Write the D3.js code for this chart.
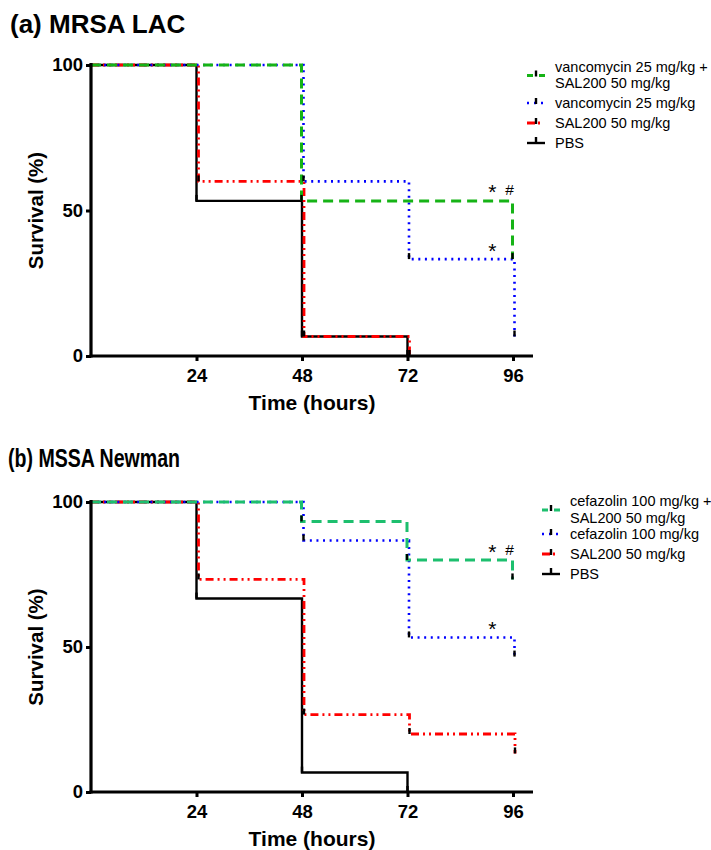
<!DOCTYPE html>
<html>
<head>
<meta charset="utf-8">
<script src="https://cdn.jsdelivr.net/npm/d3@7"></script>
<style>
  body { margin: 0; background: #fff; }
  svg { display: block; font-family: "Liberation Sans", Arial, Helvetica, sans-serif; }
</style>
</head>
<body>
<svg id="chart" width="711" height="850"></svg>
<script>
// ---------------- DATA ----------------
const xTicks = [24, 48, 72, 96];
const yTicks = [0, 50, 100];

// Panel (a) MRSA LAC — step points: time (h) and survival (%) after that time
const aComboTimes = [0, 48, 96];
const aComboSurv  = [100, 53.3, 33.3];
const aVancoTimes = [0, 48, 72, 96];
const aVancoSurv  = [100, 60, 33.3, 6.7];
const aSalTimes   = [0, 24, 48, 72];
const aSalSurv    = [100, 60, 6.7, 0];
const aPbsTimes   = [0, 24, 48, 72];
const aPbsSurv    = [100, 53.3, 6.7, 0];
const aLegend = [["vancomycin 25 mg/kg +", "SAL200 50 mg/kg"], ["vancomycin 25 mg/kg"], ["SAL200 50 mg/kg"], ["PBS"]];

// Panel (b) MSSA Newman
const bComboTimes = [0, 48, 72, 96];
const bComboSurv  = [100, 93.3, 80, 73.3];
const bCefTimes   = [0, 48, 72, 96];
const bCefSurv    = [100, 86.7, 53.3, 46.7];
const bSalTimes   = [0, 24, 48, 72, 96];
const bSalSurv    = [100, 73.3, 26.7, 20, 13.3];
const bPbsTimes   = [0, 24, 48, 72];
const bPbsSurv    = [100, 66.7, 6.7, 0];
const bLegend = [["cefazolin 100 mg/kg +", "SAL200 50 mg/kg"], ["cefazolin 100 mg/kg"], ["SAL200 50 mg/kg"], ["PBS"]];

// significance marks: [series index, time, label]
const aMarks = [[0, 91.3, "*"], [0, 95.2, "#"], [1, 91.3, "*"]];
const bMarks = [[0, 91.3, "*"], [0, 95.2, "#"], [1, 91.3, "*"]];

// ---------------- STYLE ----------------
const styles = [
  { dash: "10,6", width: 3, dx: -0.5 },           // combo (green)
  { dash: "2,4.6", width: 2.6, dx: 1.5 },         // drug (blue dotted)
  { dash: "8,4,2,4,2,4", width: 2.8, dx: 2 },     // SAL (red dash-dot-dot)
  { dash: null, width: 2.4, dx: 0 }               // PBS (black)
];

const svg = d3.select("#chart");

function panel(cfg) {
  const x = d3.scaleLinear().domain([0, 100.55]).range([91, 533]);
  const y = d3.scaleLinear().domain([0, 100]).range([cfg.y0, cfg.y100]);
  const g = svg.append("g");

  // title
  const t = g.append("text").attr("x", cfg.titleX).attr("y", cfg.titleY)
    .attr("font-size", cfg.titleSize).attr("font-weight", "bold").text(cfg.title);
  if (cfg.titleLen) t.attr("textLength", cfg.titleLen).attr("lengthAdjust", "spacingAndGlyphs");

  // series (drawn back to front: PBS, SAL, drug, combo)
  const series = cfg.series;
  const order = [3, 2, 1, 0];
  const line = d3.line().x(d => d[0]).y(d => d[1]).curve(d3.curveStepAfter);
  order.forEach(i => {
    const s = series[i];
    const st = styles[i];
    const pts = s.times.map((tm, k) => [x(tm) + (tm === 0 ? 0 : st.dx), y(s.surv[k])]);
    const p = g.append("path").attr("d", line(pts)).attr("fill", "none")
      .attr("stroke", s.color).attr("stroke-width", st.width);
    if (st.dash) p.attr("stroke-dasharray", st.dash);
  });
  // event ticks (black) at the bottom of each drop
  order.forEach(i => {
    const s = series[i];
    const st = styles[i];
    s.times.forEach((tm, k) => {
      if (k === 0) return;
      const xx = x(tm) + st.dx;
      g.append("line").attr("x1", xx).attr("x2", xx)
        .attr("y1", y(s.surv[k]) - 6).attr("y2", y(s.surv[k]))
        .attr("stroke", "#000").attr("stroke-width", 2.4);
    });
  });

  // axes
  const xAxis = d3.axisBottom(x).tickValues(xTicks).tickSize(5).tickSizeOuter(0).tickPadding(5);
  const yAxis = d3.axisLeft(y).tickValues(yTicks).tickSize(5).tickSizeOuter(0).tickPadding(3);
  const gx = g.append("g").attr("transform", `translate(0,${cfg.y0})`).call(xAxis);
  const gy = g.append("g").attr("transform", `translate(91,0)`).call(yAxis);
  [gx, gy].forEach(a => {
    a.select(".domain").attr("stroke-width", 3.2).attr("stroke", "#000");
    a.selectAll(".tick line").attr("stroke-width", 3).attr("stroke", "#000");
    a.selectAll(".tick text").attr("font-size", 18.5).attr("font-weight", "bold").attr("fill", "#000")
      .attr("font-family", "'Liberation Sans', Arial, sans-serif");
  });
  gy.select(".domain").attr("d", `M0,${cfg.y0 + 1.5}V${cfg.y100 - 2}`);
  gx.select(".domain").attr("d", `M89.5,0H533`);
  gx.selectAll(".tick text").attr("dy", "0.71em").attr("y", 13);

  // axis titles
  g.append("text").attr("x", 312).attr("y", cfg.y0 + 54).attr("text-anchor", "middle")
    .attr("font-size", 21).attr("font-weight", "bold").text("Time (hours)");
  g.append("text").attr("transform", `translate(43,${(cfg.y0 + cfg.y100) / 2}) rotate(-90)`)
    .attr("text-anchor", "middle").attr("font-size", 20.5).attr("font-weight", "bold").text("Survival (%)");

  // significance marks
  cfg.marks.forEach(m => {
    const s = series[m[0]];
    const lastLevel = s.surv[s.surv.length - 2];
    const isStar = m[2] === "*";
    g.append("text").attr("x", x(m[1])).attr("y", y(lastLevel) + (isStar ? -1.5 : -5.5))
      .attr("text-anchor", "middle").attr("font-size", isStar ? 21 : 15.5).text(m[2]);
  });

  // legend
  cfg.legend.forEach((labels, i) => {
    const s = series[i];
    const st = styles[i];
    const cy = cfg.legRows[i];
    const sy = labels.length === 2 ? cy + cfg.legLine / 2 + 0.5 : cy;
    const ls = g.append("line").attr("x1", cfg.legX).attr("x2", cfg.legX + 18)
      .attr("y1", sy).attr("y2", sy).attr("stroke", s.color).attr("stroke-width", st.width);
    if (i === 0) ls.attr("stroke-dasharray", "6,6");
    if (i === 1) ls.attr("stroke-dasharray", "2,5");
    if (i === 2) ls.attr("stroke-dasharray", "8,3,2,10");
    g.append("line").attr("x1", cfg.legX + 9).attr("x2", cfg.legX + 9)
      .attr("y1", i === 3 ? sy : sy - 5).attr("y2", i === 3 ? sy - 6 : sy + 1)
      .attr("stroke", "#000").attr("stroke-width", 2.4);
    labels.forEach((lab, k) => {
      g.append("text").attr("x", cfg.legX + 28).attr("y", cy + k * cfg.legLine + 5)
        .attr("font-size", 14.5).text(lab);
    });
  });
}

panel({
  title: "(a) MRSA LAC", titleX: 10, titleY: 33, titleSize: 26,
  y0: 356, y100: 65,
  series: [
    { times: aComboTimes, surv: aComboSurv, color: "#16b316" },
    { times: aVancoTimes, surv: aVancoSurv, color: "#0000ff" },
    { times: aSalTimes, surv: aSalSurv, color: "#ff0000" },
    { times: aPbsTimes, surv: aPbsSurv, color: "#000000" }
  ],
  marks: aMarks, legend: aLegend, legX: 527, legRows: [67, 103, 123, 143], legLine: 16
});

panel({
  title: "(b) MSSA Newman", titleX: 8, titleY: 467, titleSize: 25, titleLen: 172,
  y0: 792, y100: 502,
  series: [
    { times: bComboTimes, surv: bComboSurv, color: "#1dbf6e" },
    { times: bCefTimes, surv: bCefSurv, color: "#0000ff" },
    { times: bSalTimes, surv: bSalSurv, color: "#ff0000" },
    { times: bPbsTimes, surv: bPbsSurv, color: "#000000" }
  ],
  marks: bMarks, legend: bLegend, legX: 542, legRows: [501, 534, 554, 574], legLine: 17
});
</script>
</body>
</html>
